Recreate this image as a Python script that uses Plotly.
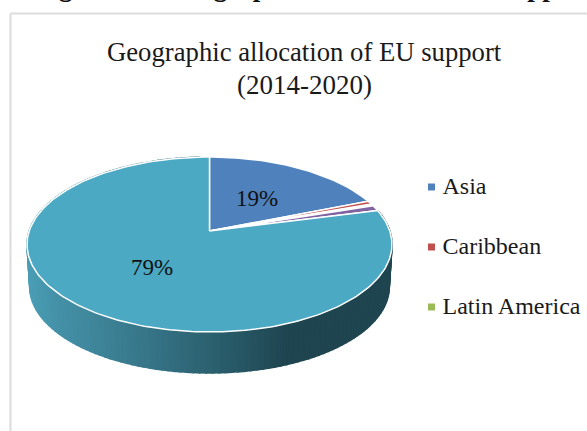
import math
import plotly.graph_objects as go

# Chart content
title_lines = ["Geographic allocation of EU support", "(2014-2020)"]
caption = "Figure 1.1: Geographic allocation of EU support"
legend_labels = ["Asia", "Caribbean", "Latin America"]
legend_colors = ["#4F81BD", "#C0504D", "#9BBB59"]
slice_values = [19, 0.6, 0.4, 1, 79]
slice_colors = ["#4F81BD", "#C0504D", "#9BBB59", "#8064A2", "#4BA9C4"]
value_labels = ["19%", "79%"]

W, H = 587, 431
SERIF = "Liberation Serif"

# Tilted-disc geometry, in screen pixels, with the disc hub as origin
HUB_X, HUB_Y = 209.5, 231.0
SEMI_X, SEMI_Y, TILT = 180.3, 85.4, 0.154
DEPTH, BASE_SCALE = 42.5, 0.985

# Shading along the rim, left to right
RIM_STOPS = [(27, (74, 158, 181)), (60, (68, 144, 166)), (150, (54, 116, 135)),
             (230, (40, 90, 104)), (285, (31, 69, 80)), (392, (31, 69, 80))]


def project(frac, scale=1.0, drop=0.0):
    """Map a clockwise fraction of the turn from 12 o'clock onto the page."""
    ang = 2 * math.pi * frac
    u, v = math.sin(ang), math.cos(ang)
    den = 1 + TILT * v
    return (HUB_X + scale * SEMI_X * u / den,
            HUB_Y - scale * SEMI_Y * v / den + drop)


def rim_color(x):
    for (x0, c0), (x1, c1) in zip(RIM_STOPS, RIM_STOPS[1:]):
        if x <= x1:
            t = max(0.0, (x - x0) / (x1 - x0))
            r, g, b = (round(a + (b_ - a) * t) for a, b_ in zip(c0, c1))
            return f"rgb({r},{g},{b})"
    return "rgb(31,69,80)"


fig = go.Figure()

# Outer wall of the disc, as narrow overlapping strips along the near half
STRIPS = 160
for i in range(STRIPS):
    f0 = 0.21 + (0.99 - 0.21) * i / STRIPS
    f1 = 0.21 + (0.99 - 0.21) * (i + 1) / STRIPS
    p = [project(f0), project(f1), project(f1, BASE_SCALE, DEPTH), project(f0, BASE_SCALE, DEPTH)]
    xs = [q[0] for q in p] + [p[0][0]]
    ys = [q[1] for q in p] + [p[0][1]]
    col = rim_color(sum(xs[:4]) / 4)
    fig.add_trace(go.Scatter(x=xs, y=ys, mode="lines", fill="toself", fillcolor=col,
                             line=dict(color=col, width=1.6), hoverinfo="skip", showlegend=False))

# Top face: one wedge per value
total = sum(slice_values)
start = 0.0
for val, col in zip(slice_values, slice_colors):
    end = start + val / total
    n = max(3, int(val * 3))
    pts = [project(start + (end - start) * k / n) for k in range(n + 1)]
    xs = [HUB_X] + [q[0] for q in pts] + [HUB_X]
    ys = [HUB_Y] + [q[1] for q in pts] + [HUB_Y]
    fig.add_trace(go.Scatter(x=xs, y=ys, mode="lines", fill="toself", fillcolor=col,
                             line=dict(color="white", width=1.5), hoverinfo="skip", showlegend=False))
    start = end

# Value labels on the two large wedges
fig.add_trace(go.Scatter(x=[257, 152], y=[200, 269], mode="text", text=value_labels,
                         textfont=dict(family=SERIF, size=23, color="#111111"),
                         hoverinfo="skip", showlegend=False))

# Legend swatches and names
legend_y = [187, 247, 307]
fig.add_trace(go.Scatter(x=[431.5] * 3, y=legend_y, mode="markers",
                         marker=dict(symbol="square", size=7, color=legend_colors),
                         hoverinfo="skip", showlegend=False))
fig.add_trace(go.Scatter(x=[442.5] * 3, y=[y + 1 for y in legend_y], mode="text", text=legend_labels,
                         textposition="middle right",
                         textfont=dict(family=SERIF, size=24, color="#1a1a1a"),
                         hoverinfo="skip", showlegend=False))

fig.update_layout(
    width=W, height=H, margin=dict(l=0, r=0, t=0, b=0),
    paper_bgcolor="white", plot_bgcolor="white",
    xaxis=dict(range=[0, W], visible=False, fixedrange=True),
    yaxis=dict(range=[H, 0], visible=False, fixedrange=True),
    shapes=[
        dict(type="line", xref="x", yref="y", x0=10.5, x1=10.5, y0=13.5, y1=H,
             line=dict(color="#dcdcdc", width=2), layer="below"),
        dict(type="line", xref="x", yref="y", x0=10.5, x1=W, y0=13.5, y1=13.5,
             line=dict(color="#dcdcdc", width=2), layer="below"),
    ],
    annotations=[
        dict(text=title_lines[0], xref="x", yref="y", x=304, y=52, showarrow=False,
             font=dict(family=SERIF, size=26.7, color="#1a1a1a")),
        dict(text=title_lines[1], xref="x", yref="y", x=304, y=85, showarrow=False,
             font=dict(family=SERIF, size=27, color="#1a1a1a")),
        dict(text=f"<b>{caption}</b>", xref="x", yref="y", x=33, y=4, xanchor="left",
             yanchor="bottom", showarrow=False,
             font=dict(family=SERIF, size=27, color="#111111")),
    ],
)

fig.write_html("out.html", config={"displayModeBar": False})
